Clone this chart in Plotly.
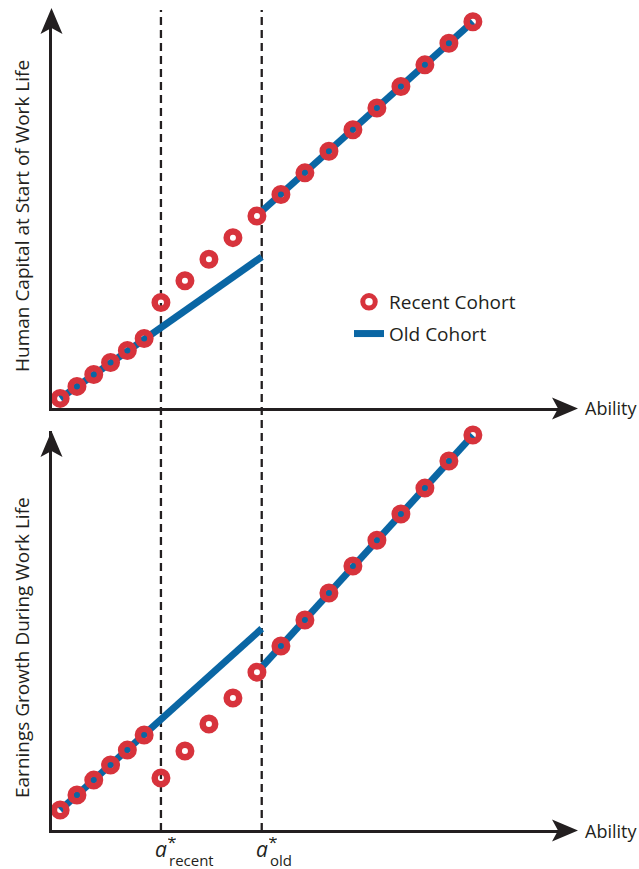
import plotly.graph_objects as go

W, H = 639, 869

# ---------------- data ----------------
ability = [0.8, 1.5, 2.2, 2.9, 3.6, 4.3, 5, 6, 7, 8, 9, 10, 11, 12, 13, 14, 15, 16, 17, 18]
recent_hc = [0.4, 0.9, 1.4, 1.9, 2.4, 2.9, 4.4, 5.3, 6.2, 7.1, 8.0, 8.9, 9.8, 10.7,
             11.6, 12.5, 13.4, 14.3, 15.2, 16.1]
recent_growth = [0.83, 1.46, 2.08, 2.71, 3.33, 3.96, 2.17, 3.29, 4.42, 5.5, 6.58, 7.67,
                 8.75, 9.88, 11.0, 12.08, 13.17, 14.25, 15.38, 16.46]

a_recent = 5.0
a_old = 9.2

old_x = [0.8, 9.2, None, 9.2, 18]
old_hc = [0.4, 6.3, None, 8.2, 16.1]
old_growth = [0.83, 8.39, None, 6.79, 16.46]

x_range = [0.46, 21.63]
top_range = [0, 16.42]
bot_range = [0, 16.63]

RED = "#d7333c"
BLUE = "#0a66a4"
INK = "#231f20"
FONT = "Open Sans"


def px(x, y):
    return x / W, 1 - y / H


fig = go.Figure()

# Old cohort (drawn first, under the markers)
fig.add_trace(go.Scatter(x=old_x, y=old_hc, mode="lines", name="Old Cohort",
                         line=dict(color=BLUE, width=7), connectgaps=False,
                         xaxis="x", yaxis="y", legendrank=2, legendgroup="old"))
fig.add_trace(go.Scatter(x=old_x, y=old_growth, mode="lines", name="Old Cohort",
                         line=dict(color=BLUE, width=7), connectgaps=False,
                         xaxis="x2", yaxis="y2", showlegend=False, legendgroup="old"))
# Recent cohort
mk = dict(symbol="circle-open", size=12.5, color=RED, line=dict(width=6.5, color=RED))
fig.add_trace(go.Scatter(x=ability, y=recent_hc, mode="markers", name="Recent Cohort",
                         marker=mk, cliponaxis=False, xaxis="x", yaxis="y",
                         legendrank=1, legendgroup="recent"))
fig.add_trace(go.Scatter(x=ability, y=recent_growth, mode="markers", name="Recent Cohort",
                         marker=mk, cliponaxis=False, xaxis="x2", yaxis="y2",
                         showlegend=False, legendgroup="recent"))

xdom = [52 / W, 560 / W]
ax_common = dict(showgrid=False, zeroline=False, showticklabels=False, ticks="",
                 showline=True, linewidth=3, linecolor=INK, fixedrange=True)

fig.update_layout(
    width=W, height=H,
    margin=dict(l=0, r=0, t=0, b=0),
    paper_bgcolor="white", plot_bgcolor="white",
    font=dict(family=FONT, color=INK),
    xaxis=dict(domain=xdom, range=x_range, anchor="y", **ax_common),
    yaxis=dict(domain=[1 - 408 / H, 1 - 14 / H], range=top_range, anchor="x", **ax_common),
    xaxis2=dict(domain=xdom, range=x_range, anchor="y2", **ax_common),
    yaxis2=dict(domain=[1 - 830 / H, 1 - 431 / H], range=bot_range, anchor="x2", **ax_common),
    legend=dict(x=349 / W, y=1 - 283 / H, xanchor="left", yanchor="top",
                bgcolor="rgba(0,0,0,0)", font=dict(size=19, family=FONT, color=INK),
                tracegroupgap=4),
    showlegend=True,
)

shapes = []
# dashed threshold lines
for a in (a_recent, a_old):
    shapes.append(dict(type="line", xref="x", yref="paper", x0=a, x1=a,
                       y0=1 - 831 / H, y1=1 - 10 / H, layer="below",
                       line=dict(color=INK, width=2.3, dash="8px,5px")))


def path(points):
    s = "M " + " L ".join(f"{px(x, y)[0]:.5f},{px(x, y)[1]:.5f}" for x, y in points) + " Z"
    return s


# arrowheads
for tip_y in (8, 431):
    shapes.append(dict(type="path", xref="paper", yref="paper", fillcolor=INK,
                       line=dict(width=0),
                       path=path([(51.5, tip_y), (62.5, tip_y + 26), (51.5, tip_y + 20),
                                  (40.5, tip_y + 26)])))
for ax_y in (408.5, 830.5):
    shapes.append(dict(type="path", xref="paper", yref="paper", fillcolor=INK,
                       line=dict(width=0),
                       path=path([(578, ax_y), (552, ax_y - 11), (558, ax_y),
                                  (552, ax_y + 11)])))
fig.update_layout(shapes=shapes)

ann = []
for yy in (408, 831):
    ann.append(dict(text="Ability", xref="paper", yref="paper", x=583 / W, y=1 - yy / H,
                    xanchor="left", yanchor="middle", showarrow=False,
                    font=dict(size=18, color=INK)))
ann.append(dict(text="Human Capital at Start of Work Life", xref="paper", yref="paper",
                x=22 / W, y=1 - 216 / H, textangle=-90, xanchor="center", yanchor="middle",
                showarrow=False, font=dict(size=19, color=INK)))
ann.append(dict(text="Earnings Growth During Work Life", xref="paper", yref="paper",
                x=22 / W, y=1 - 648 / H, textangle=-90, xanchor="center", yanchor="middle",
                showarrow=False, font=dict(size=19, color=INK)))
for a, sub in ((a_recent, "recent"), (a_old, "old")):
    ann.append(dict(text="<i>a</i>", xref="x2", yref="paper", x=a, y=1 - 849 / H,
                    xanchor="center", yanchor="middle", showarrow=False,
                    width=14, height=16, borderpad=0,
                    font=dict(size=21, color=INK)))
    ann.append(dict(text="*", xref="x2", yref="paper", x=a, xshift=11.5, y=1 - 841 / H,
                    xanchor="center", yanchor="middle", showarrow=False,
                    width=8, height=8, borderpad=0,
                    font=dict(size=17, color=INK)))
    ann.append(dict(text=sub, xref="x2", yref="paper", x=a, xshift=7.5, y=1 - 859.5 / H,
                    xanchor="left", yanchor="middle", showarrow=False,
                    height=17, borderpad=0,
                    font=dict(size=15, color=INK)))
fig.update_layout(annotations=ann)

fig.write_html("out.html")
